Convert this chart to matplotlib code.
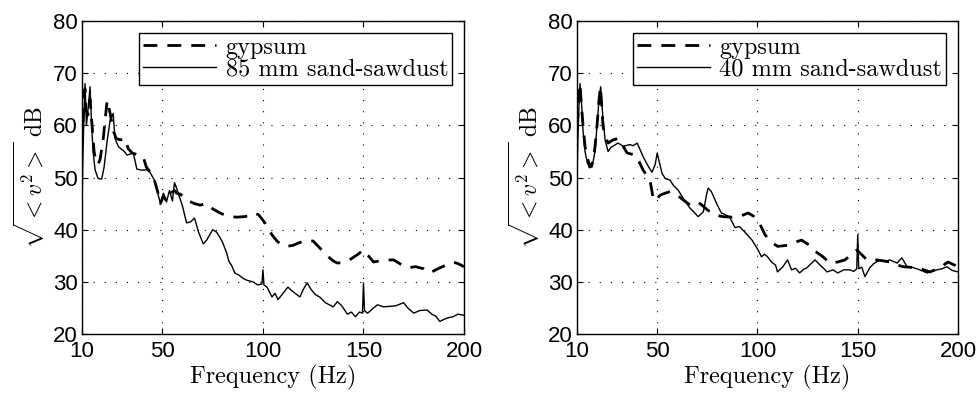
import matplotlib
matplotlib.use("Agg")
import matplotlib.pyplot as plt

plt.rcParams['mathtext.fontset'] = 'cm'

# ---------------- data ----------------
xticks = [10, 50, 100, 150, 200]
yticks = [20, 30, 40, 50, 60, 70, 80]

# left panel: gypsum
f_gyp_l = [10, 10.5, 11, 11.5, 12, 13, 14, 15, 16, 17, 18, 19, 20.5, 21.5, 22.5, 23, 24, 25.5, 27, 29,
           31.4, 33, 35, 38, 40.4, 42, 44, 46, 48, 49, 50.5, 52, 54, 56, 57, 59, 61, 63, 66, 68.7,
           72, 75, 78.6, 81, 83.6, 87, 91, 94, 96, 98, 101, 103, 104.5, 107, 110, 112, 115, 118, 122.5, 125,
           127, 130, 132.5, 135, 137, 140, 143, 147, 150, 152, 155, 158, 161, 165, 168, 172, 176, 180, 183, 187,
           191, 194.5, 197, 200]
db_gyp_l = [56, 60, 66, 67, 63, 62, 65, 60, 55, 53, 52.5, 53.5, 57.2, 61, 64.8, 64, 62.3, 59, 57.5, 57.2,
            57.5, 55.5, 54.7, 54.3, 54, 52, 51, 49.5, 46.8, 45, 46.5, 45.5, 47, 47.5, 47, 46.8, 46, 45.5, 45, 44.7,
            45, 44, 43.2, 42.8, 42.5, 42.4, 42.5, 42.8, 43.2, 42.8, 41.3, 40, 39, 37.8, 36.9, 36.8, 37, 37.5, 38, 37.8,
            37, 35.8, 34.8, 34, 33.6, 33.7, 34.2, 35.2, 36.1, 35.2, 33.8, 34, 34.2, 34.2, 33.5, 32.7, 32.9, 32.5, 31.7, 32.5,
            33.2, 33.8, 33.5, 32.9]

# left panel: 85 mm sand-sawdust
f_ss85 = [10, 10.5, 11, 11.5, 12.2, 13, 14, 14.8, 15.5, 16.5, 18, 19.8, 21, 22.5, 24, 25.5, 26.4, 28, 29, 31,
          32.4, 34, 35.5, 37.3, 40, 42, 43.8, 46, 48, 49, 50.5, 52, 53.5, 55, 56, 57, 58.7, 60, 62, 64,
          66, 68, 70.3, 72, 75, 77, 78.6, 80, 82, 83, 84.6, 86, 88, 90, 92, 95, 97.5, 99.5, 100, 100.5,
          102, 104.5, 106, 107.5, 110, 112.4, 114, 116, 118.4, 120, 122, 124, 126, 128.5, 131, 133, 135, 137, 139, 142,
          144, 146, 148, 149.5, 150, 150.5, 152, 153, 155, 157, 160, 163, 166, 170, 172, 175, 178, 181.6, 184, 186,
          188, 190, 192, 194.5, 197, 200]
db_ss85 = [44, 55, 62, 68, 60, 63, 67.4, 60, 55, 51.5, 49.8, 49.7, 52, 57, 61, 62.3, 57.5, 56, 55.6, 55,
           54.3, 54.5, 54.7, 51.6, 51.4, 51.5, 51, 49.5, 46.5, 45, 47, 45.3, 47.5, 45.5, 49, 48, 46, 44.5, 41.3, 41.5,
           42.2, 39.5, 37.3, 38, 40, 39.5, 38.5, 37.5, 35.5, 34, 33, 31.7, 31.3, 30.7, 30.3, 30, 29.4, 29.6, 32.3, 29.4,
           29, 27.1, 27.8, 26.6, 27.8, 29, 28.4, 27.8, 27.1, 28.5, 29.8, 28.5, 27.6, 27, 26, 25.6, 25.2, 26.2, 25.5, 23.8,
           24.2, 23.3, 24.2, 24, 29.8, 24.5, 24, 24.3, 25, 25.6, 25.2, 25.3, 25.4, 26, 25, 24, 24.5, 24.6, 23.8, 23.4,
           22.4, 22.8, 23.1, 23.3, 23.8, 23.6]

# right panel: gypsum
f_gyp_r = [10, 10.5, 11, 11.5, 12, 13, 14, 15, 16.5, 18, 19, 20, 21, 21.7, 23, 24, 25.5, 28, 30.5, 33,
           35, 39, 41, 43, 46.4, 48, 49, 51.4, 54, 56.4, 60, 63, 66.4, 68, 71.4, 75, 78.8, 82.8, 87, 91,
           95.3, 98, 101.3, 103.8, 107, 110, 115, 118, 122, 126, 129, 132.7, 136, 140, 143.6, 147, 149.6, 152, 154.6, 159.6,
           163, 166, 169, 172.6, 176, 179.6, 183, 186, 191, 195, 200]
db_gyp_r = [59.7, 62, 66, 68, 65, 60, 56, 54, 52, 53, 56, 60, 65, 67.4, 59.7, 58, 56.6, 57.2, 57.5, 56,
            54.7, 54.3, 53, 51.4, 49.5, 46, 45.5, 46.6, 47, 47.3, 46.6, 45.7, 44.7, 44.4, 45, 43.8, 42.8, 42.5, 42.4, 42.5,
            43.2, 42.6, 41, 39, 37.6, 36.8, 37, 37.5, 38, 37, 35.8, 34.8, 33.6, 33.8, 34.2, 35.3, 36.1, 35.2, 34.2, 34.2,
            34, 33.8, 33.3, 32.9, 32.8, 32.7, 32.3, 31.9, 32.7, 33.8, 32.9]

# right panel: 40 mm sand-sawdust
f_ss40 = [10, 10.5, 11, 11.5, 12.3, 13, 14, 15, 16, 17.5, 19, 20, 21, 21.8, 22.6, 24, 25.5, 27, 28, 30.4,
          33, 36.4, 38, 40, 43, 45, 47.4, 49, 50, 51, 52.4, 54, 56.4, 58, 60.4, 63, 66.4, 68, 70.4, 73,
          74.5, 75.4, 77, 80, 82, 86, 88.8, 91, 93.8, 97.3, 100.3, 102, 103.5, 105, 107, 109, 110, 112.7, 115, 117,
          119, 121, 123, 124.7, 126.5, 128.7, 131, 132.7, 134.7, 137.7, 140, 143, 146, 148, 149.5, 150, 150.5, 152, 153.6, 156,
          158, 161, 164, 166, 169.6, 172, 174.6, 177, 181, 184.6, 187, 189.5, 192, 194.5, 197, 200]
db_ss40 = [50, 58, 64, 68, 64, 59, 55, 53, 52, 52, 55, 60, 65, 67.4, 63, 57.2, 55, 55.8, 56, 56.6,
           56, 56.3, 56.1, 56.6, 54, 52.5, 51, 52.5, 54.7, 53, 50.8, 49.8, 49.5, 48.5, 47.6, 46, 44.1, 43.5, 42.5, 43.4,
           46.5, 48, 47.3, 44.7, 43.2, 42.5, 40.4, 40.6, 39.5, 38, 36.1, 34.8, 35.3, 34.8, 33.8, 33.2, 31.9, 32.9, 34.2, 32.3,
           32.6, 31.7, 32.4, 32.7, 33.4, 34.2, 33.3, 32.7, 31.9, 32.3, 31.7, 32.3, 32.3, 32, 32.5, 39, 32.5, 32.8, 31, 32.7,
           33.5, 34.2, 34, 34.2, 33.6, 34.6, 32.9, 32.8, 32.3, 31.7, 32, 32.3, 32.5, 32.9, 32.2, 31.9]

panels = [
    (f_gyp_l, db_gyp_l, f_ss85, db_ss85, '85 mm sand-sawdust', [82, 382]),
    (f_gyp_r, db_gyp_r, f_ss40, db_ss40, '40 mm sand-sawdust', [577, 381]),
]

W, H = 980, 398
fig = plt.figure(figsize=(W / 100, H / 100), dpi=100)

tickfont = dict(family='Liberation Sans', size=16)

for fg, dg, fs, ds, lab, (x0, w) in panels:
    ax = fig.add_axes([x0 / W, (H - 334) / H, w / W, 313 / H])
    ax.plot(fg, dg, color='black', lw=2.0, dashes=(5.0, 3.6), label='gypsum')
    ax.plot(fs, ds, color='black', lw=1.0, label=lab)
    ax.set_xlim(10, 200)
    ax.set_ylim(20, 80)
    ax.set_xticks(xticks)
    ax.set_yticks(yticks)
    ax.set_xticklabels([str(t) for t in xticks], **tickfont)
    ax.set_yticklabels([str(t) for t in yticks], **tickfont)
    ax.tick_params(direction='in', top=True, right=True, length=4, width=0.8, pad=3)
    ax.tick_params(axis='x', pad=5)
    ax.grid(True, color='black', linestyle=(0, (1, 9)), linewidth=0.8)
    for s in ax.spines.values():
        s.set_linewidth(1.0)
    ax.set_xlabel('Frequency (Hz)', family='cmr10', size=17.5, labelpad=2)
    ax.set_ylabel(r'$\sqrt{<v^2>}\ \mathrm{dB}$', size=17, labelpad=4)
    leg = ax.legend(loc='upper right', bbox_to_anchor=(1 - 12 / w, 1 - 12 / 313), borderaxespad=0,
                    prop=dict(family='cmr10', size=17.5), fancybox=False, framealpha=1,
                    edgecolor='black', handlelength=3.0, handletextpad=0.4, borderpad=0.15,
                    labelspacing=0.0)
    leg.get_frame().set_linewidth(1.0)

fig.savefig('out.png', dpi=100)
